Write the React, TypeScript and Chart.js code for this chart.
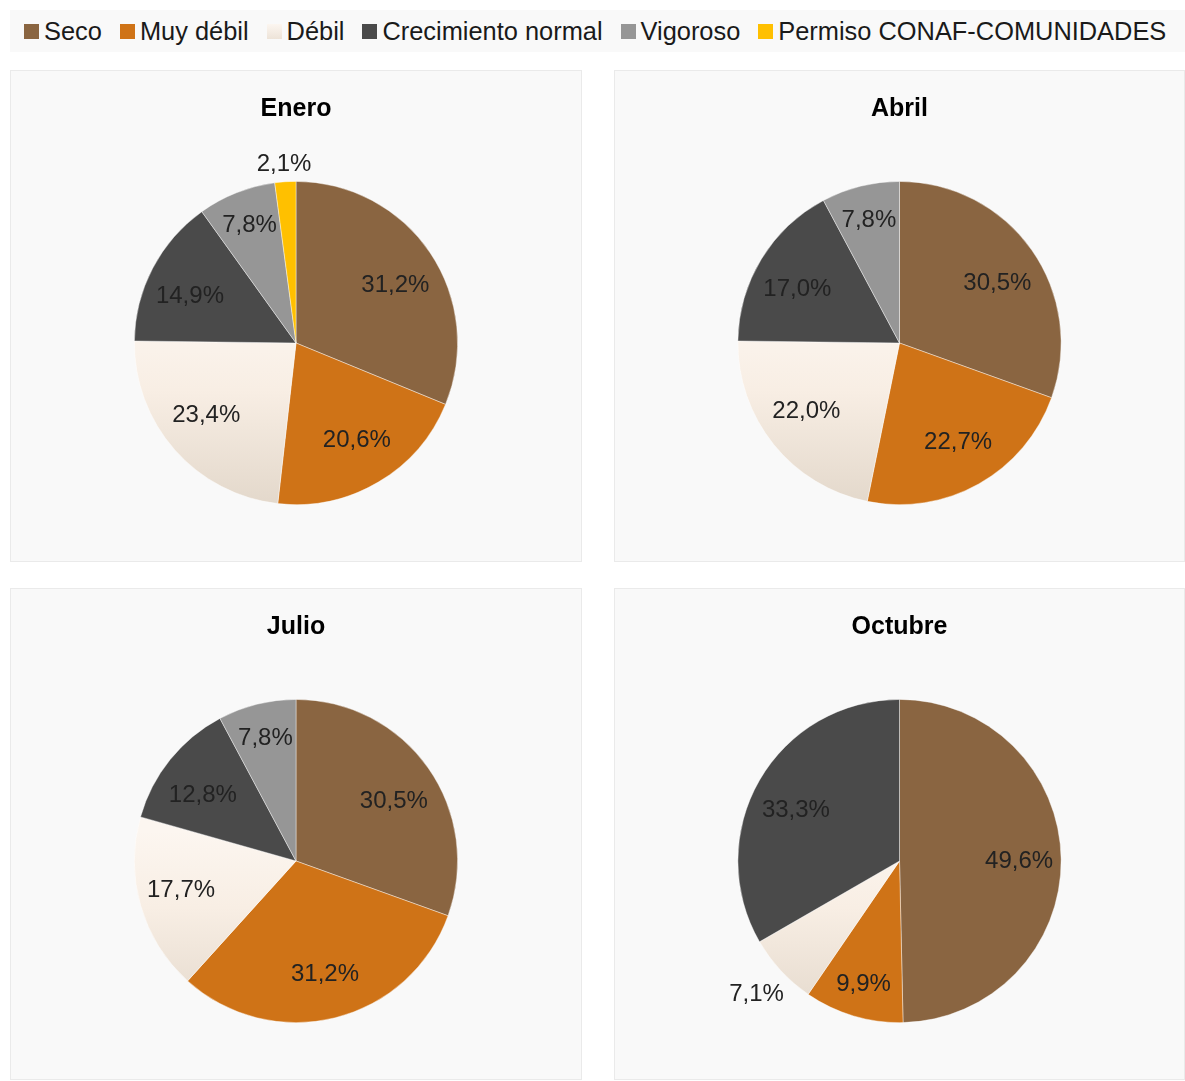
import React, { useEffect, useRef } from "react";
import { Chart, registerables } from "chart.js";

Chart.register(...registerables);

const categories = ["Seco", "Muy débil", "Débil", "Crecimiento normal", "Vigoroso", "Permiso CONAF-COMUNIDADES"];
const colors = ["#8A6541", "#CF7317", "#F7EEE5", "#4A4A4A", "#969696", "#FFC000"];
const months = ["Enero", "Abril", "Julio", "Octubre"];
const enero = [31.2, 20.6, 23.4, 14.9, 7.8, 2.1];
const abril = [30.5, 22.7, 22.0, 17.0, 7.8, 0];
const julio = [30.5, 31.2, 17.7, 12.8, 7.8, 0];
const octubre = [49.6, 9.9, 7.1, 33.3, 0, 0];
const seriesByMonth = [enero, abril, julio, octubre];

const FONT = "'Liberation Sans', Arial, Helvetica, sans-serif";

const labelPlugin = {
  id: "sliceLabels",
  afterDatasetsDraw(chart: any) {
    const ctx = chart.ctx;
    const meta = chart.getDatasetMeta(0);
    const data = chart.data.datasets[0].data as number[];
    ctx.save();
    ctx.font = `24px ${FONT}`;
    ctx.fillStyle = "#222222";
    ctx.textAlign = "center";
    ctx.textBaseline = "middle";
    meta.data.forEach((arc: any, i: number) => {
      const v = data[i];
      if (!v) return;
      const { x, y, startAngle, endAngle, outerRadius } = arc.getProps(
        ["x", "y", "startAngle", "endAngle", "outerRadius"],
        true
      );
      const mid = (startAngle + endAngle) / 2;
      const dx = Math.cos(mid);
      const dy = Math.sin(mid);
      const text = v.toFixed(1).replace(".", ",") + "%";
      let px: number;
      let py: number;
      if (v < 7.5) {
        const w = ctx.measureText(text).width / 2;
        const h = 12;
        const dist = outerRadius + 5 + Math.abs(dx) * w + Math.abs(dy) * h;
        px = dx * dist;
        py = dy * dist;
      } else if (v < 10) {
        px = dx * outerRadius * 0.78;
        py = dy * outerRadius * 0.79;
      } else {
        px = dx * outerRadius * 0.74;
        py = dy * outerRadius * (0.62 + 0.1 * dy * dy);
      }
      ctx.fillText(text, x + px, y + py + 1);
    });
    ctx.restore();
  },
};

function debilGradient(context: any) {
  const chart = context.chart;
  const area = chart.chartArea;
  if (!area) return colors[2];
  const cy = (area.top + area.bottom) / 2;
  const g = chart.ctx.createLinearGradient(0, cy - 30, 0, area.bottom);
  g.addColorStop(0, "#FCF6F0");
  g.addColorStop(0.4, "#F8EEE4");
  g.addColorStop(1, "#E3D8CB");
  return g;
}

function PiePanel(props: { title: string; values: number[]; left: number; top: number; width: number; height: number }) {
  const ref = useRef<HTMLCanvasElement | null>(null);
  const innerW = props.width - 2;
  const innerH = props.height - 2;
  useEffect(() => {
    if (!ref.current) return;
    const chart = new Chart(ref.current, {
      type: "pie",
      data: {
        labels: categories,
        datasets: [
          {
            data: props.values,
            backgroundColor: (c: any) => (c.dataIndex === 2 ? debilGradient(c) : colors[c.dataIndex]),
            borderColor: "rgba(255,255,255,0.55)",
            borderWidth: (c: any) => (props.values[c.dataIndex] ? 0.75 : 0),
            hoverOffset: 0,
          },
        ],
      },
      options: {
        responsive: false,
        animation: false,
        rotation: 0,
        layout: { padding: { top: 0, bottom: 56, left: 0, right: 0 } },
        plugins: {
          legend: { display: false },
          tooltip: { enabled: false },
          title: {
            display: true,
            text: props.title,
            color: "#000",
            font: { family: FONT, size: 25, weight: "bold", lineHeight: 1.2 },
            padding: { top: 23, bottom: 57 },
          },
        },
      },
      plugins: [labelPlugin],
    });
    return () => chart.destroy();
  }, []);
  return (
    <div
      style={{
        position: "absolute",
        left: props.left,
        top: props.top,
        width: props.width,
        height: props.height,
        boxSizing: "border-box",
        background: "#F9F9F9",
        border: "1px solid #EAEAEA",
      }}
    >
      <canvas ref={ref} width={innerW} height={innerH} style={{ display: "block", width: innerW, height: innerH }} />
    </div>
  );
}

export default function App() {
  const panelPos = [
    { left: 10, top: 70, width: 572, height: 492 },
    { left: 614, top: 70, width: 571, height: 492 },
    { left: 10, top: 588, width: 572, height: 492 },
    { left: 614, top: 588, width: 571, height: 492 },
  ];
  return (
    <div style={{ position: "absolute", left: 0, top: 0, width: 1185, height: 1081, background: "#fff", overflow: "hidden" }}>
      <div
        style={{
          position: "absolute",
          left: 10,
          top: 10,
          width: 1175,
          height: 42,
          background: "#F9F9F9",
          display: "flex",
          alignItems: "center",
          paddingLeft: 14,
          boxSizing: "border-box",
          fontFamily: FONT,
          fontSize: 25.4,
          color: "#1A1A1A",
          whiteSpace: "nowrap",
        }}
      >
        {categories.map((c, i) => (
          <div key={c} style={{ display: "flex", alignItems: "center", marginRight: 18 }}>
            <span
              style={{
                display: "inline-block",
                width: 15,
                height: 15,
                marginRight: 5,
                background: i === 2 ? "linear-gradient(#FCF6F0, #EDE3D8)" : colors[i],
              }}
            />
            <span style={{ lineHeight: "30px" }}>{c}</span>
          </div>
        ))}
      </div>
      {months.map((m, i) => (
        <PiePanel key={m} title={m} values={seriesByMonth[i]} {...panelPos[i]} />
      ))}
    </div>
  );
}
